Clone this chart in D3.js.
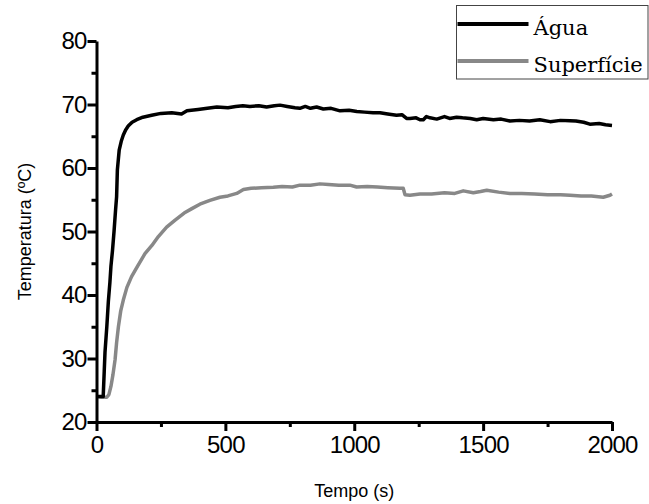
<!DOCTYPE html>
<html>
<head>
<meta charset="utf-8">
<script src="https://cdn.jsdelivr.net/npm/d3@7"></script>
<style>
  body { margin: 0; background: #fff; }
  svg { display: block; }
</style>
</head>
<body>
<div id="svg"></div>
<script>
// series names (legend)
var seriesNames = ["Água", "Superfície"];

// Água (black) - time (s) and temperature (ºC)
var aguaTime = [0, 10, 20, 26, 30, 33, 40, 46, 52, 56, 62, 68, 74, 78, 81, 88, 96, 104, 113, 123, 138, 156, 180, 214, 250, 292, 330, 351, 394, 430, 467, 510, 540, 568, 595, 630, 660, 690, 712, 740, 770, 789, 810, 830, 854, 880, 910, 945, 980, 1010, 1040, 1073, 1100, 1130, 1164, 1185, 1203, 1216, 1240, 1255, 1268, 1280, 1294, 1320, 1350, 1370, 1397, 1420, 1450, 1475, 1500, 1540, 1570, 1604, 1640, 1680, 1720, 1760, 1800, 1837, 1860, 1890, 1914, 1950, 1975, 2000];
var aguaTemp = [24, 24, 24, 24, 28, 31, 35, 39, 42, 44.5, 47, 50, 53.4, 55.5, 59.7, 62.8, 64.2, 65.2, 66.0, 66.6, 67.2, 67.6, 68.0, 68.3, 68.6, 68.7, 68.5, 69.0, 69.2, 69.4, 69.6, 69.5, 69.7, 69.8, 69.7, 69.8, 69.6, 69.8, 69.9, 69.7, 69.5, 69.4, 69.7, 69.4, 69.6, 69.3, 69.4, 69.0, 69.1, 68.9, 68.8, 68.7, 68.7, 68.5, 68.3, 68.4, 67.8, 67.8, 67.9, 67.6, 67.6, 68.1, 67.9, 67.7, 68.1, 67.8, 68.0, 67.9, 67.8, 67.6, 67.8, 67.6, 67.7, 67.4, 67.5, 67.4, 67.6, 67.3, 67.5, 67.45, 67.4, 67.2, 66.9, 67.0, 66.8, 66.7];

// Superfície (gray)
var supTime = [0, 20, 40, 48, 56, 64, 72, 78, 85, 94, 104, 118, 136, 160, 188, 215, 240, 272, 305, 340, 370, 401, 440, 479, 510, 544, 570, 600, 640, 686, 720, 760, 789, 830, 867, 900, 940, 983, 1009, 1050, 1090, 1130, 1177, 1190, 1197, 1216, 1255, 1300, 1350, 1390, 1423, 1462, 1490, 1514, 1560, 1604, 1650, 1700, 1750, 1800, 1837, 1880, 1920, 1966, 1992, 2000];
var supTemp = [24, 23.9, 23.9, 24.3, 25.6, 27.5, 29.8, 32.5, 35.0, 37.5, 39.2, 41.2, 42.9, 44.6, 46.5, 47.8, 49.2, 50.7, 51.8, 52.9, 53.6, 54.3, 54.9, 55.4, 55.6, 56.0, 56.6, 56.8, 56.9, 56.96, 57.1, 57.0, 57.3, 57.3, 57.5, 57.4, 57.3, 57.3, 57.0, 57.1, 57.0, 56.9, 56.8, 56.8, 55.8, 55.7, 55.9, 55.9, 56.1, 56.0, 56.4, 56.1, 56.3, 56.5, 56.2, 56.0, 56.0, 55.9, 55.8, 55.8, 55.7, 55.6, 55.6, 55.4, 55.7, 55.9];

// tick values
var xTicks = [0, 500, 1000, 1500, 2000];
var xMinorTicks = [250, 750, 1250, 1750];
var yTicks = [20, 30, 40, 50, 60, 70, 80];
var yMinorTicks = [25, 35, 45, 55, 65, 75];

var svgWidth = 649, svgHeight = 504;
var margin = { top: 41, right: 37, bottom: 82, left: 96.5 };
var chartWidth = svgWidth - margin.left - margin.right;
var chartHeight = svgHeight - margin.top - margin.bottom;

var svg = d3.select("#svg").append("svg")
    .attr("width", svgWidth)
    .attr("height", svgHeight);

var chartGroup = svg.append("g")
    .attr("transform", `translate(${margin.left},${margin.top})`);

var xScale = d3.scaleLinear().domain([0, 2000]).range([0, chartWidth]);
var yScale = d3.scaleLinear().domain([20, 80]).range([chartHeight, 0]);

// lines
var line = d3.line()
    .x(d => xScale(d[0]))
    .y(d => yScale(d[1]));

var supData = d3.zip(supTime, supTemp);
var aguaData = d3.zip(aguaTime, aguaTemp);

chartGroup.append("path")
    .datum(supData)
    .attr("fill", "none")
    .attr("stroke", "#888")
    .attr("stroke-width", 3.5)
    .attr("stroke-linejoin", "round")
    .attr("d", line);

chartGroup.append("path")
    .datum(aguaData)
    .attr("fill", "none")
    .attr("stroke", "#000")
    .attr("stroke-width", 3.5)
    .attr("stroke-linejoin", "round")
    .attr("d", line);

// minor ticks
chartGroup.append("g")
    .attr("class", "x-minor")
    .attr("transform", `translate(0,${chartHeight})`)
    .call(d3.axisBottom(xScale).tickValues(xMinorTicks).tickSize(5).tickFormat(""));
chartGroup.append("g")
    .attr("class", "y-minor")
    .call(d3.axisLeft(yScale).tickValues(yMinorTicks).tickSize(5).tickFormat(""));

// major axes
var bottomAxis = d3.axisBottom(xScale).tickValues(xTicks).tickFormat(d3.format("d"))
    .tickSize(9).tickSizeOuter(0).tickPadding(5);
var leftAxis = d3.axisLeft(yScale).tickValues(yTicks).tickFormat(d3.format("d"))
    .tickSize(9).tickSizeOuter(0).tickPadding(1);

chartGroup.append("g")
    .attr("class", "x-axis")
    .attr("transform", `translate(0,${chartHeight})`)
    .call(bottomAxis);
chartGroup.append("g")
    .attr("class", "y-axis")
    .call(leftAxis);

chartGroup.selectAll(".domain")
    .attr("stroke", "#000")
    .attr("stroke-width", 3);
chartGroup.selectAll(".tick line")
    .attr("stroke", "#000")
    .attr("stroke-width", 3);
chartGroup.selectAll(".x-minor .domain, .y-minor .domain").remove();
chartGroup.selectAll(".x-axis text, .y-axis text")
    .attr("font-family", "Liberation Sans, Arial, sans-serif")
    .attr("font-size", "24px")
    .attr("letter-spacing", "-0.8px")
    .attr("fill", "#000");

// y axis label
svg.append("text")
    .attr("text-anchor", "middle")
    .attr("transform", `translate(31,${margin.top + chartHeight / 2})rotate(-90)`)
    .attr("font-family", "Liberation Sans, Arial, sans-serif")
    .attr("font-size", "18px")
    .text("Temperatura (ºC)");

// x axis label
svg.append("text")
    .attr("text-anchor", "middle")
    .attr("x", margin.left + chartWidth / 2)
    .attr("y", 497)
    .attr("font-family", "Liberation Sans, Arial, sans-serif")
    .attr("font-size", "18px")
    .text("Tempo (s)");

// legend
var legend = svg.append("g").attr("transform", "translate(456.5,5.5)");
legend.append("rect")
    .attr("width", 191.5)
    .attr("height", 73.5)
    .attr("fill", "#fff")
    .attr("stroke", "#444")
    .attr("stroke-width", 1);
var legendColors = ["#000", "#888"];
seriesNames.forEach(function(name, i) {
    var yPos = 18.5 + i * 37;
    legend.append("line")
        .attr("x1", 1).attr("x2", 72)
        .attr("y1", yPos).attr("y2", yPos)
        .attr("stroke", legendColors[i])
        .attr("stroke-width", 4);
    legend.append("text")
        .attr("x", 77)
        .attr("y", yPos + 11)
        .attr("font-family", "DejaVu Serif, serif")
        .attr("font-size", "21px")
        .attr("fill", "#000")
        .text(name);
});
</script>
</body>
</html>
